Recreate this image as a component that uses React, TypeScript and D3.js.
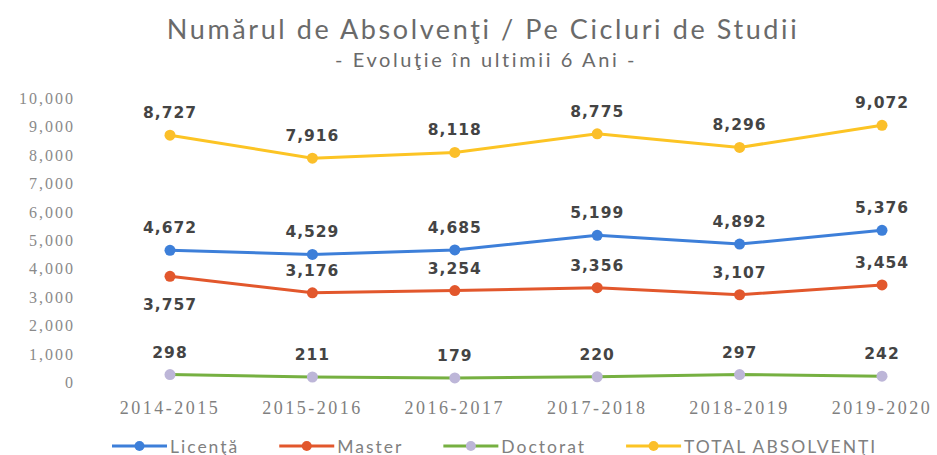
import * as d3 from "d3";
import { useEffect, useRef } from "react";

// academic years on the x axis
const years = ["2014-2015", "2015-2016", "2016-2017", "2017-2018", "2018-2019", "2019-2020"];

// graduates per study cycle
const licenta = [4672, 4529, 4685, 5199, 4892, 5376];
const master = [3757, 3176, 3254, 3356, 3107, 3454];
const doctorat = [298, 211, 179, 220, 297, 242];
const total = [8727, 7916, 8118, 8775, 8296, 9072];

const seriesNames = ["Licenţă", "Master", "Doctorat", "TOTAL ABSOLVENŢI"];
const yTicks = [0, 1000, 2000, 3000, 4000, 5000, 6000, 7000, 8000, 9000, 10000];

const title = "Numărul de Absolvenţi / Pe Cicluri de Studii";
const subtitle = "- Evoluţie în ultimii 6 Ani -";

const App = () => {
  const svgRef = useRef(null);
  const width = 937;
  const height = 455;

  useEffect(() => {
    const svg = d3.select(svgRef.current);
    svg.selectAll("*").remove();

    const series = [
      { name: seriesNames[0], values: licenta, line: "#3d7fd9", dot: "#3d7fd9" },
      { name: seriesNames[1], values: master, line: "#e2572c", dot: "#e2572c" },
      { name: seriesNames[2], values: doctorat, line: "#76b041", dot: "#bdb6d8" },
      { name: seriesNames[3], values: total, line: "#fcc424", dot: "#fbbf2a" },
    ];

    const x = d3.scalePoint().domain(years).range([170, 882]);
    const y = d3.scaleLinear().domain([0, 10000]).range([383, 99]);

    // titles
    svg
      .append("text")
      .attr("x", 483)
      .attr("y", 39)
      .attr("text-anchor", "middle")
      .attr("font-family", "Lato")
      .attr("font-size", 27)
      .attr("letter-spacing", 2.6)
      .attr("fill", "#6a6a6a")
      .text(title);
    svg
      .append("text")
      .attr("x", 486)
      .attr("y", 67)
      .attr("text-anchor", "middle")
      .attr("font-family", "Lato")
      .attr("font-size", 20)
      .attr("letter-spacing", 2.6)
      .attr("fill", "#6a6a6a")
      .text(subtitle);

    // y axis labels (no axis line, no grid)
    svg
      .selectAll(".ytick")
      .data(yTicks)
      .join("text")
      .attr("class", "ytick")
      .attr("x", 75)
      .attr("y", (d) => y(d) + 5)
      .attr("text-anchor", "end")
      .attr("font-family", "Liberation Serif")
      .attr("font-size", 16)
      .attr("letter-spacing", 2)
      .attr("fill", "#8a8a8a")
      .text((d) => d3.format(",")(d));

    // x axis labels
    svg
      .selectAll(".xtick")
      .data(years)
      .join("text")
      .attr("class", "xtick")
      .attr("x", (d) => x(d))
      .attr("y", 414)
      .attr("text-anchor", "middle")
      .attr("font-family", "Liberation Serif")
      .attr("font-size", 18)
      .attr("letter-spacing", 2.5)
      .attr("fill", "#808080")
      .text((d) => d);

    const line = d3
      .line()
      .x((d, i) => x(years[i]))
      .y((d) => y(d));

    series.forEach((s, k) => {
      const g = svg.append("g");
      g.append("path")
        .attr("d", line(s.values))
        .attr("fill", "none")
        .attr("stroke", s.line)
        .attr("stroke-width", 3);
      g.selectAll("circle")
        .data(s.values)
        .join("circle")
        .attr("cx", (d, i) => x(years[i]))
        .attr("cy", (d) => y(d))
        .attr("r", 5.5)
        .attr("fill", s.dot);
      // label goes below when the series above is too close
      const above = k === 1 ? series[0].values : null;
      g.selectAll("text")
        .data(s.values)
        .join("text")
        .attr("x", (d, i) => x(years[i]))
        .attr("y", (d, i) => (above && above[i] - d < 1000 ? y(d) + 34 : y(d) - 17))
        .attr("text-anchor", "middle")
        .attr("font-family", "DejaVu Sans")
        .attr("font-weight", "bold")
        .attr("font-size", 15.5)
        .attr("letter-spacing", 1)
        .attr("fill", "#444444")
        .text((d) => d3.format(",")(d));
    });

    // legend
    let lx = 112;
    const ly = 446;
    series.forEach((s) => {
      const g = svg.append("g");
      g.append("line")
        .attr("x1", lx)
        .attr("x2", lx + 55)
        .attr("y1", ly)
        .attr("y2", ly)
        .attr("stroke", s.line)
        .attr("stroke-width", 3);
      g.append("circle")
        .attr("cx", lx + 27.5)
        .attr("cy", ly)
        .attr("r", 5)
        .attr("fill", s.dot);
      const t = g
        .append("text")
        .attr("x", lx + 58)
        .attr("y", ly + 6.5)
        .attr("font-family", "Lato")
        .attr("font-size", 17.5)
        .attr("letter-spacing", 2)
        .attr("fill", "#808080")
        .text(s.name);
      lx += 58 + t.node().getComputedTextLength() + 40;
    });
  }, []);

  return (
    <svg
      ref={svgRef}
      width={width}
      height={height}
      style={{ position: "absolute", left: 0, top: 0, background: "#fff" }}
    ></svg>
  );
};

export default App;
